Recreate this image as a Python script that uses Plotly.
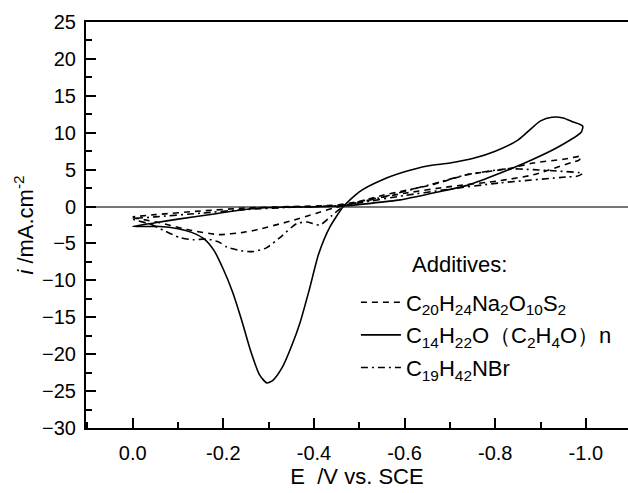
import plotly.graph_objects as go

# ---- data (E in V vs. SCE, i in mA/cm^2), closed CV loops ----
E_sps = [0.0, -0.06, -0.127, -0.19, -0.244, -0.27, -0.34, -0.406, -0.443, -0.47, -0.55, -0.664,
         -0.737, -0.826, -0.884, -0.95, -0.99, -0.985, -0.97, -0.884, -0.81, -0.70, -0.60, -0.50,
         -0.45, -0.35, -0.25, -0.15, -0.05, 0.0]
i_sps = [-1.5, -2.2, -3.2, -3.8, -3.5, -3.2, -2.1, -0.9, -0.2, 0.2, 1.5, 3.0,
         4.3, 5.1, 5.9, 6.4, 6.8, 6.3, 6.0, 4.3, 3.5, 2.7, 1.8, 0.7,
         0.2, 0.0, -0.2, -0.6, -1.1, -1.4]

E_op = [0.0, -0.03, -0.06, -0.10, -0.13, -0.16, -0.18, -0.20, -0.22, -0.24, -0.26, -0.28, -0.296,
        -0.31, -0.33, -0.35, -0.37, -0.39, -0.41, -0.435, -0.465, -0.50, -0.55, -0.60, -0.65,
        -0.70, -0.75, -0.80, -0.85, -0.88, -0.90, -0.925, -0.95, -0.97, -0.993, -0.99, -0.94,
        -0.88, -0.81, -0.74, -0.66, -0.59, -0.52, -0.47, -0.40, -0.33, -0.26, -0.18, -0.10,
        -0.05, 0.0]
i_op = [-2.7, -2.7, -2.7, -3.0, -3.5, -4.5, -6.0, -8.5, -11.5, -15.3, -19.5, -22.8, -23.9,
        -23.5, -21.8, -19.0, -15.6, -11.2, -6.5, -2.8, 0.0, 2.0, 3.6, 4.7, 5.5,
        5.9, 6.5, 7.5, 9.0, 10.6, 11.6, 12.1, 12.0, 11.5, 10.9, 10.1, 8.1,
        6.3, 4.5, 2.9, 1.8, 0.9, 0.4, 0.1, -0.05, -0.1, -0.3, -1.0, -1.7,
        -2.2, -2.7]

E_ctab = [0.0, -0.04, -0.067, -0.104, -0.133, -0.164, -0.19, -0.208, -0.24, -0.266, -0.295,
          -0.325, -0.362, -0.384, -0.413, -0.44, -0.465, -0.553, -0.664, -0.737, -0.826, -0.884,
          -0.94, -0.993, -0.98, -0.957, -0.81, -0.693, -0.60, -0.50, -0.45, -0.35, -0.25, -0.15,
          -0.05, 0.0]
i_ctab = [-1.7, -2.4, -3.2, -4.2, -4.5, -4.4, -4.8, -5.5, -6.0, -6.1, -5.6,
          -4.2, -2.3, -2.1, -2.5, -1.2, 0.0, 1.3, 3.1, 4.3, 5.1, 5.0,
          4.8, 4.5, 4.1, 4.0, 3.2, 2.3, 1.5, 0.5, 0.1, -0.1, -0.4, -0.9,
          -1.4, -1.7]

names = ["C<sub>20</sub>H<sub>24</sub>Na<sub>2</sub>O<sub>10</sub>S<sub>2</sub>",
         "C<sub>14</sub>H<sub>22</sub>O（C<sub>2</sub>H<sub>4</sub>O）n",
         "C<sub>19</sub>H<sub>42</sub>NBr"]

x_ticks = [0.0, -0.2, -0.4, -0.6, -0.8, -1.0]
x_ticklabels = ["0.0", "-0.2", "-0.4", "-0.6", "-0.8", "-1.0"]
y_ticks = [25, 20, 15, 10, 5, 0, -5, -10, -15, -20, -25, -30]

FONT = "Liberation Sans, Arial, sans-serif"

fig = go.Figure()
series = [(E_sps, i_sps, "6px,5px"), (E_op, i_op, "solid"), (E_ctab, i_ctab, "7px,4px,2px,4px")]
for k, (ex, iy, dash) in enumerate(series):
    fig.add_trace(go.Scatter(x=ex, y=iy, mode="lines", name=names[k], legendgroup=str(k),
                             line=dict(color="black", width=1.6, dash=dash, shape="spline",
                                       smoothing=0.6)))

axis_common = dict(showgrid=False, linecolor="black", linewidth=2, ticks="inside",
                   tickcolor="black", tickwidth=1.5, ticklen=10,
                   tickfont=dict(family=FONT, size=20, color="black"))

fig.update_xaxes(range=[0.103, -1.093], tickvals=x_ticks, ticktext=x_ticklabels,
                 mirror=True, zeroline=False, ticklabelstandoff=6,
                 minor=dict(dtick=0.1, tick0=0, ticks="inside", ticklen=6, tickcolor="black",
                            tickwidth=1.5),
                 title=dict(text="E  /V vs. SCE", font=dict(family=FONT, size=22, color="black"),
                            standoff=6),
                 **axis_common)
fig.update_yaxes(range=[-30, 25], tickvals=y_ticks, zeroline=True, zerolinecolor="#777777",
                 zerolinewidth=1.5, ticklabelstandoff=4,
                 minor=dict(dtick=2.5, tick0=0, ticks="inside", ticklen=6, tickcolor="black",
                            tickwidth=1.5),
                 title=dict(text="<i>i</i> /mA.cm<sup>-2</sup>",
                            font=dict(family=FONT, size=22, color="black"), standoff=2),
                 **axis_common)

fig.add_annotation(text="Additives:", xref="paper", yref="paper", x=0.598, y=0.366,
                   xanchor="left", yanchor="bottom", showarrow=False,
                   font=dict(family=FONT, size=22, color="black"))

fig.update_layout(
    width=628, height=493,
    margin=dict(l=86, r=0, t=22, b=65),
    paper_bgcolor="white", plot_bgcolor="white",
    showlegend=True,
    legend=dict(x=0.498, y=0.361, xanchor="left", yanchor="top", bgcolor="rgba(0,0,0,0)",
                font=dict(family=FONT, size=22, color="black"), tracegroupgap=1,
                itemwidth=40),
)

fig.write_html("out.html")
